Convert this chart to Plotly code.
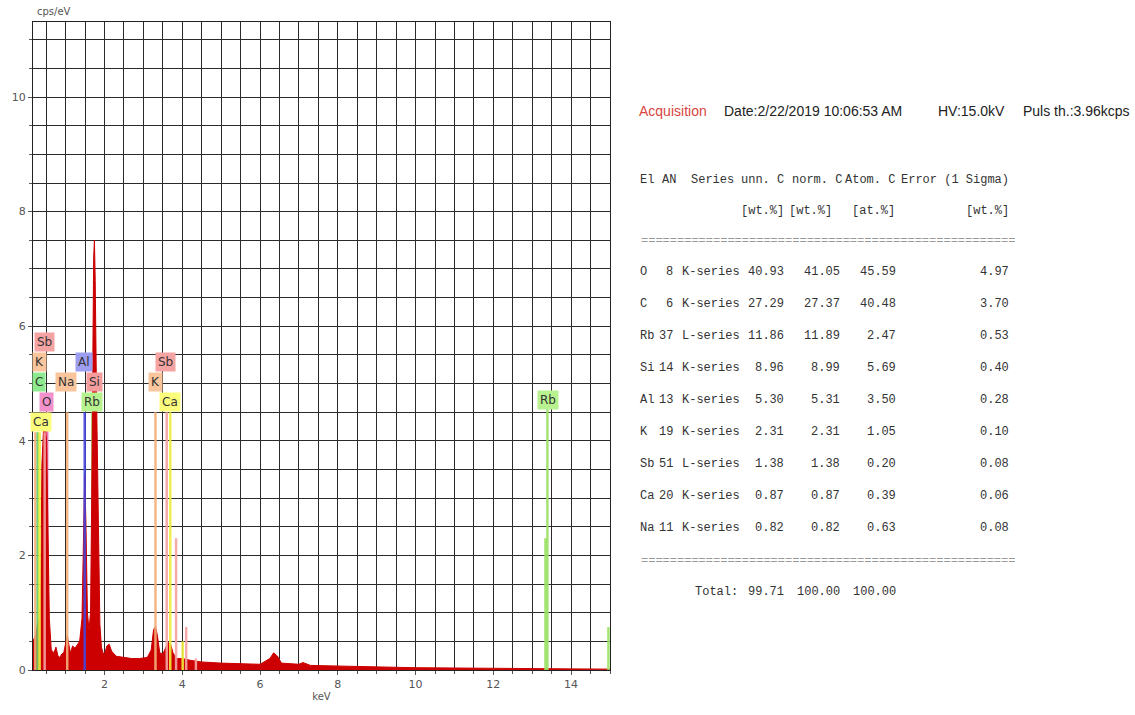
import plotly.graph_objects as go

# ---------------- data ----------------
energy_kev = [0.16, 0.22, 0.28, 0.33, 0.36, 0.39, 0.43, 0.47, 0.51, 0.54, 0.58, 0.63, 0.70,
              0.75, 0.80, 0.85, 0.90, 0.95, 1.00, 1.04, 1.08, 1.12, 1.18, 1.24, 1.30, 1.36,
              1.42, 1.46, 1.49, 1.52, 1.56, 1.60, 1.64, 1.67, 1.69, 1.72, 1.74, 1.76, 1.79,
              1.82, 1.85, 1.88, 1.92, 1.96, 2.00, 2.06, 2.12, 2.18, 2.30, 2.50, 2.70, 2.90,
              3.10, 3.20, 3.26, 3.31, 3.36, 3.42, 3.50, 3.58, 3.64, 3.70, 3.76, 3.85, 4.00,
              4.20, 4.50, 5.00, 5.50, 6.00, 6.25, 6.35, 6.45, 6.55, 7.00, 7.10, 7.30, 8.00,
              9.00, 10.0, 11.0, 12.0, 13.0, 14.0, 15.0]
counts_cps = [0.5, 0.6, 0.8, 0.9, 1.5, 3.6, 4.2, 4.25, 4.0, 2.5, 0.9, 0.35, 0.3,
              0.4, 0.25, 0.22, 0.28, 0.3, 0.5, 0.6, 0.45, 0.3, 0.42, 0.38, 0.44, 0.5,
              0.9, 2.4, 3.4, 2.6, 1.0, 0.7, 1.0, 3.0, 5.5, 7.2, 7.5, 6.8, 5.0,
              3.8, 2.0, 0.8, 0.4, 0.3, 0.28, 0.42, 0.45, 0.33, 0.24, 0.22, 0.2, 0.2,
              0.22, 0.35, 0.7, 0.76, 0.6, 0.3, 0.28, 0.4, 0.48, 0.45, 0.3, 0.2, 0.2,
              0.17, 0.14, 0.12, 0.11, 0.1, 0.2, 0.3, 0.24, 0.12, 0.1, 0.13, 0.08, 0.07,
              0.05, 0.04, 0.035, 0.03, 0.02, 0.015, 0.015]

# element marker lines (energy in keV, height in cps/eV)
line_element = ["K", "C", "Ca", "Sb", "Na", "Al", "K", "Sb", "Ca",
                "Sb", "Ca", "Sb", "Sb", "Rb", "Rb", "Rb"]
line_energy = [0.22, 0.28, 0.33, 0.46, 1.04, 1.49, 3.31, 3.60, 3.69,
               3.84, 4.01, 4.10, 4.35, 13.34, 13.39, 14.96]
line_height = [4.15, 4.15, 4.15, 4.15, 4.5, 4.5, 4.5, 4.5, 4.5,
               2.3, 0.5, 0.75, 0.2, 2.3, 4.55, 0.75]
# lines partly hidden behind the spectrum
back_element = ["O", "Rb", "Si"]
back_energy = [0.525, 1.69, 1.74]
back_height = [4.5, 4.5, 4.5]

# element labels
label_text = ["Sb", "K", "C", "O", "Ca", "Al", "Na", "Si", "Rb", "Sb", "K", "Ca", "Rb"]
label_x = [0.46, 0.32, 0.32, 0.50, 0.37, 1.46, 1.01, 1.73, 1.68, 3.58, 3.30, 3.68, 13.40]
label_y = [5.72, 5.37, 5.02, 4.68, 4.33, 5.37, 5.02, 5.02, 4.68, 5.37, 5.02, 4.68, 4.71]

x_ticks = [2, 4, 6, 8, 10, 12, 14]
y_ticks = [0, 2, 4, 6, 8, 10]

# quantification table
tbl_el = ["O", "C", "Rb", "Si", "Al", "K", "Sb", "Ca", "Na"]
tbl_an = ["8", "6", "37", "14", "13", "19", "51", "20", "11"]
tbl_series = ["K-series", "K-series", "L-series", "K-series", "K-series", "K-series",
              "L-series", "K-series", "K-series"]
tbl_unn = ["40.93", "27.29", "11.86", "8.96", "5.30", "2.31", "1.38", "0.87", "0.82"]
tbl_norm = ["41.05", "27.37", "11.89", "8.99", "5.31", "2.31", "1.38", "0.87", "0.82"]
tbl_atom = ["45.59", "40.48", "2.47", "5.69", "3.50", "1.05", "0.20", "0.39", "0.63"]
tbl_err = ["4.97", "3.70", "0.53", "0.40", "0.28", "0.10", "0.08", "0.06", "0.08"]
tbl_total = ["99.71", "100.00", "100.00"]

# ---------------- styles ----------------
label_bg = {"Sb": "#f5a3a3", "K": "#f9c59c", "C": "#8eea8e", "O": "#f291cc", "Ca": "#fbfb7c",
            "Al": "#9d9df2", "Na": "#f9c59c", "Si": "#f59d9d", "Rb": "#b8f28e"}
line_col = {"Sb": "#f6a3a3", "K": "#f5b07a", "C": "#66d066", "O": "#ee77b5", "Ca": "#f0ee3c",
            "Al": "#4646dc", "Na": "#f5b07a", "Si": "#d80000", "Rb": "#9ae264"}

W, H = 1135, 715
ML, MR, MT, MB = 31, 525, 22, 45
PW, PH = W - ML - MR, H - MT - MB


def px(x):
    return (x - ML) / PW


def py(y):
    return 1 - (y - MT) / PH


fig = go.Figure()
for el, e, h in zip(back_element, back_energy, back_height):
    fig.add_trace(go.Scatter(x=[e, e], y=[0, h], mode="lines",
                             line=dict(color=line_col[el], width=2.5),
                             hoverinfo="skip", showlegend=False))
fig.add_trace(go.Scatter(x=energy_kev, y=counts_cps, mode="lines", fill="tozeroy",
                         line=dict(color="#cc0000", width=1), fillcolor="#cc0000",
                         hoverinfo="skip", showlegend=False))
for el, e, h in zip(line_element, line_energy, line_height):
    fig.add_trace(go.Scatter(x=[e, e], y=[0, h], mode="lines",
                             line=dict(color=line_col[el], width=2.5),
                             opacity=0.9, hoverinfo="skip", showlegend=False))

ann = []
for t, x, y in zip(label_text, label_x, label_y):
    ann.append(dict(x=x, y=y, xref="x", yref="y", text=t, showarrow=False,
                    bgcolor=label_bg[t], borderpad=2,
                    font=dict(family="DejaVu Sans", size=12, color="#333333")))

ann.append(dict(x=px(33), y=py(12), xref="paper", yref="paper", text="cps/eV",
                showarrow=False, xanchor="left", yanchor="middle",
                font=dict(family="DejaVu Sans", size=10, color="#555555")))

hfont = "Liberation Sans, Arial, sans-serif"
hdr = [("Acquisition", 637, "#d9453f"), ("Date:2/22/2019 10:06:53 AM", 722, "#222222"),
       ("HV:15.0kV", 937, "#222222"), ("Puls th.:3.96kcps", 1022, "#222222")]
for t, x, c in hdr:
    ann.append(dict(x=px(x), y=py(111), xref="paper", yref="paper", text=t, showarrow=False,
                    xanchor="left", yanchor="middle",
                    font=dict(family=hfont, size=14, color=c)))

mono = "Liberation Mono, DejaVu Sans Mono, monospace"
tcol = "#333333"


def cell(text, x, y, anchor, color=tcol):
    ann.append(dict(x=px(x), y=py(y), xref="paper", yref="paper", text=text,
                    showarrow=False, xanchor=anchor, yanchor="middle",
                    font=dict(family=mono, size=12, color=color)))


# header
cell("El", 638, 180, "left")
cell("AN", 660, 180, "left")
cell("Series", 689, 180, "left")
cell("unn. C", 787, 180, "right")
cell("norm. C", 845, 180, "right")
cell("Atom. C", 898, 180, "right")
cell("Error (1 Sigma)", 1012, 180, "right")
cell("[wt.%]", 787, 211, "right")
cell("[wt.%]", 835, 211, "right")
cell("[at.%]", 898, 211, "right")
cell("[wt.%]", 1012, 211, "right")
cell("=" * 52, 639, 241, "left", "#999999")

row_y0, row_dy = 272, 32
for i in range(len(tbl_el)):
    yy = row_y0 + i * row_dy
    cell(tbl_el[i], 638, yy, "left")
    cell(tbl_an[i], 675, yy, "right")
    cell(tbl_series[i], 680, yy, "left")
    cell(tbl_unn[i], 787, yy, "right")
    cell(tbl_norm[i], 843, yy, "right")
    cell(tbl_atom[i], 899, yy, "right")
    cell(tbl_err[i], 1012, yy, "right")

cell("=" * 52, 639, 561, "left", "#999999")
cell("Total:", 693, 592, "left")
cell(tbl_total[0], 787, 592, "right")
cell(tbl_total[1], 843, 592, "right")
cell(tbl_total[2], 899, 592, "right")

grid_col = "#2b2b2b"
fig.update_layout(
    width=W, height=H, margin=dict(l=ML, r=MR, t=MT, b=MB),
    paper_bgcolor="white", plot_bgcolor="white", showlegend=False,
    annotations=ann,
    xaxis=dict(range=[0.16, 15.0], tickvals=x_ticks, ticks="outside", ticklen=4,
               tickcolor="#555555", showgrid=True, gridcolor=grid_col, gridwidth=1.2,
               minor=dict(dtick=0.5, tick0=0, showgrid=True, gridcolor=grid_col, gridwidth=1.2,
                          ticks="outside", ticklen=3, tickcolor="#555555"),
               showline=True, linecolor="#222222", linewidth=1, mirror=True, zeroline=False,
               tickfont=dict(family="DejaVu Sans", size=11, color="#555555"),
               title=dict(text="keV", standoff=2,
                          font=dict(family="DejaVu Sans", size=10, color="#555555"))),
    yaxis=dict(range=[0, 11.31], tickvals=y_ticks, ticks="outside", ticklen=4,
               tickcolor="#555555", showgrid=True, gridcolor=grid_col, gridwidth=1.2,
               minor=dict(dtick=0.5, tick0=0, showgrid=True, gridcolor=grid_col, gridwidth=1.2,
                          ticks="outside", ticklen=3, tickcolor="#555555"),
               showline=True, linecolor="#222222", linewidth=1, mirror=True, zeroline=False,
               tickfont=dict(family="DejaVu Sans", size=11, color="#555555")),
)

fig.write_html("out.html")
